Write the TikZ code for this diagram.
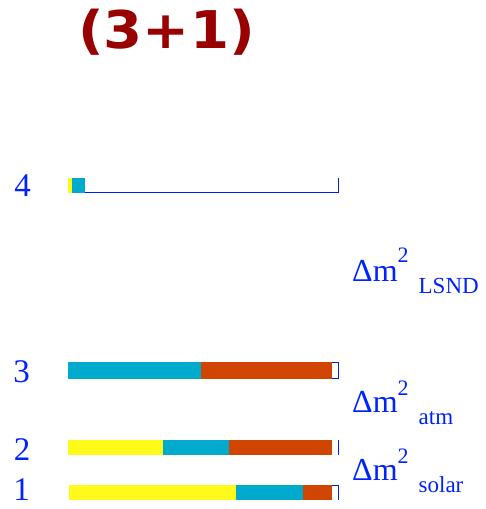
\documentclass[tikz,border=0pt]{standalone}
\usepackage{fontspec}
\setmainfont{Liberation Serif}
\newfontfamily\titlefont{DejaVu Sans}
\definecolor{tblue}{RGB}{0,34,255}
\definecolor{lblue}{RGB}{0,30,240}
\definecolor{yel}{RGB}{255,250,25}
\definecolor{cya}{RGB}{0,170,204}
\definecolor{ora}{RGB}{208,69,0}
\definecolor{dred}{RGB}{153,0,0}
\newcommand{\DmLabel}[2]{{\fontsize{32}{32}\selectfont Δm\raisebox{#2}{\fontsize{22}{22}\selectfont 2}\hspace{10pt}\raisebox{-12pt}{\fontsize{23}{23}\selectfont #1}}}
\tikzset{
  lvl/.style={font=\fontsize{33}{33}\selectfont, text=tblue, anchor=base, inner sep=0pt},
  dm/.style={text=tblue, anchor=base west, inner sep=0pt},
  edge/.style={draw=lblue, line width=1.3pt}
}
\begin{document}
\begin{tikzpicture}[x=1pt,y=-1pt]
\useasboundingbox (0,0) rectangle (486,509);
% title
\node[anchor=base, inner sep=0pt, text=dred] (title) at (166.5,48)
  {\scalebox{1.08}[1]{\titlefont\bfseries\fontsize{52}{52}\selectfont (3+1)}};
% level labels
\node[lvl] (l4) at (22.5,196) {4};
\node[lvl] (l3) at (21.5,382) {3};
\node[lvl] (l2) at (22,460) {2};
\node[lvl] (l1) at (21.5,500) {1};
% mass splittings
\node[dm] (dLSND) at (352,281) {\DmLabel{LSND}{19pt}};
\node[dm] (datm) at (352,412) {\DmLabel{atm}{17pt}};
\node[dm] (dsol) at (352,480) {\DmLabel{solar}{17pt}};
% bar 4
\fill[yel] (68,178) rectangle (72,193);
\fill[cya] (72,178) rectangle (85,193);
\draw[edge] (85,192.3) -- (338.7,192.3) -- (338.7,178);
% bar 3
\draw[edge] (331,362.6) rectangle (338.7,378.2);
\fill[cya] (68,362) rectangle (201,379);
\fill[ora] (201,362) rectangle (332,379);
% bar 2
\fill[yel] (68,440) rectangle (163,455);
\fill[cya] (163,440) rectangle (229,455);
\fill[ora] (229,440) rectangle (332,455);
\draw[edge] (338.7,440) -- (338.7,455);
% bar 1
\fill[yel] (69,485) rectangle (236,500);
\fill[cya] (236,485) rectangle (303,500);
\fill[ora] (303,485) rectangle (332,500);
\draw[edge] (332,485.6) -- (338.7,485.6) -- (338.7,500);
\end{tikzpicture}
\end{document}
